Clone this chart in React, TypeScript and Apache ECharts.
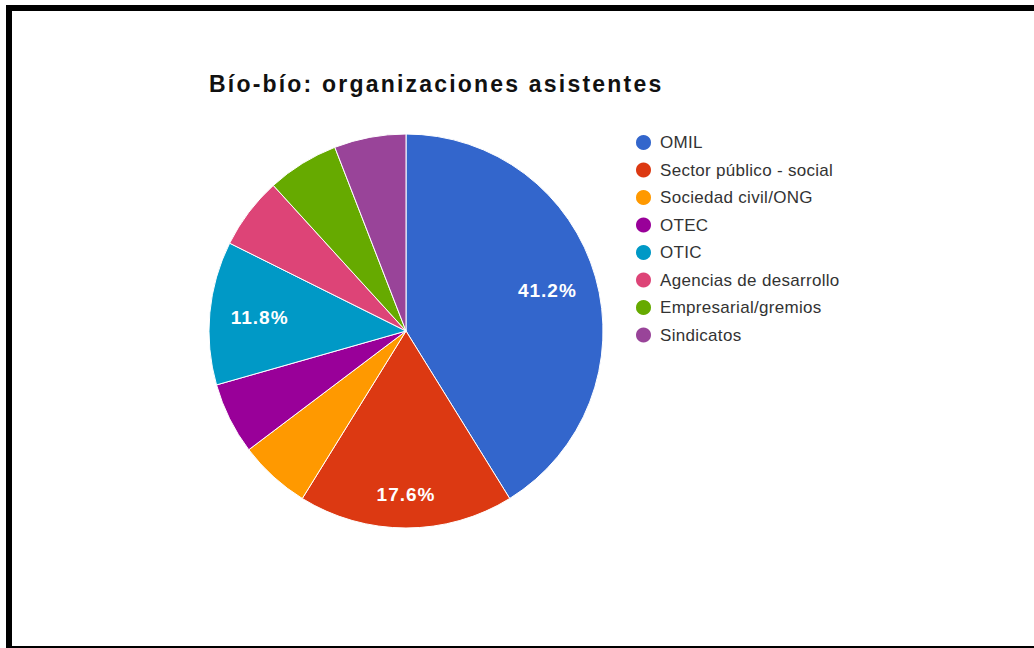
import React, { useEffect, useRef } from 'react';
import * as echarts from 'echarts';

const titleText = 'Bío-bío: organizaciones asistentes';
const categories = [
  'OMIL',
  'Sector público - social',
  'Sociedad civil/ONG',
  'OTEC',
  'OTIC',
  'Agencias de desarrollo',
  'Empresarial/gremios',
  'Sindicatos',
];
const counts = [7, 3, 1, 1, 2, 1, 1, 1];
const colors = ['#3366cc', '#dc3912', '#ff9900', '#990099', '#0099c6', '#dd4477', '#66aa00', '#994499'];

const total = counts.reduce((a, b) => a + b, 0);

const css = `
#chartbox svg text[style*="23px"] { letter-spacing: 2.2px; }
#chartbox svg text[style*="17px"] { letter-spacing: 0.3px; }
#chartbox svg text[style*="19px"] { letter-spacing: 1px; }
`;

function buildOption() {
  const mainData = categories.map((name, i) => ({
    name,
    value: counts[i],
    itemStyle: { color: colors[i] },
  }));
  const labelData = categories.map((name, i) => ({
    name,
    value: counts[i],
    label: i === 1 ? { offset: [0, 16] } : undefined,
  }));
  return {
    animation: false,
    backgroundColor: 'transparent',
    title: {
      text: titleText,
      left: 209,
      top: 72,
      padding: 0,
      textStyle: {
        fontFamily: 'Liberation Sans',
        fontSize: 23,
        fontWeight: 'bold',
        color: '#111',
      },
    },
    legend: {
      orient: 'vertical',
      left: 634,
      top: 133,
      padding: 0,
      itemWidth: 17,
      itemHeight: 17,
      itemGap: 8.5,
      icon: 'circle',
      selectedMode: false,
      data: categories,
      textStyle: {
        fontFamily: 'Liberation Sans',
        fontSize: 17,
        color: '#333',
        padding: [0, 0, 0, 3],
      },
    },
    series: [
      {
        type: 'pie',
        name: 'main',
        center: [406, 331],
        radius: [0, 197],
        startAngle: 90,
        clockwise: true,
        silent: true,
        label: { show: false },
        labelLine: { show: false },
        itemStyle: { borderColor: '#ffffff', borderWidth: 1 },
        emphasis: { disabled: true },
        data: mainData,
      },
      {
        type: 'pie',
        name: 'labels',
        center: [406, 331],
        radius: [91, 197],
        startAngle: 90,
        clockwise: true,
        silent: true,
        itemStyle: { color: 'rgba(0,0,0,0)', borderWidth: 0 },
        emphasis: { disabled: true },
        labelLine: { show: false },
        label: {
          show: true,
          position: 'inside',
          color: '#ffffff',
          fontFamily: 'Liberation Sans',
          fontSize: 19,
          fontWeight: 'bold',
          formatter: (p: any) => {
            const pct = (p.value / total) * 100;
            return pct >= 10 ? pct.toFixed(1) + '%' : '';
          },
        },
        data: labelData,
      },
    ],
  };
}

export default function App() {
  const ref = useRef<HTMLDivElement>(null);
  useEffect(() => {
    if (!ref.current) return;
    const chart = echarts.init(ref.current, null, { renderer: 'svg' });
    chart.setOption(buildOption() as any);
    return () => chart.dispose();
  }, []);
  return (
    <div
      id="chartbox"
      style={{
        position: 'fixed',
        left: 0,
        top: 0,
        width: 1034,
        height: 648,
        background: '#ffffff',
        overflow: 'hidden',
      }}
    >
      <style>{css}</style>
      <div
        style={{
          position: 'absolute',
          left: 6,
          top: 5,
          width: 1040,
          height: 643,
          borderLeft: '6px solid #000',
          borderTop: '6px solid #000',
          borderBottom: '2px solid #000',
          boxSizing: 'border-box',
        }}
      />
      <div ref={ref} style={{ position: 'absolute', left: 0, top: 0, width: 1034, height: 648 }} />
    </div>
  );
}
